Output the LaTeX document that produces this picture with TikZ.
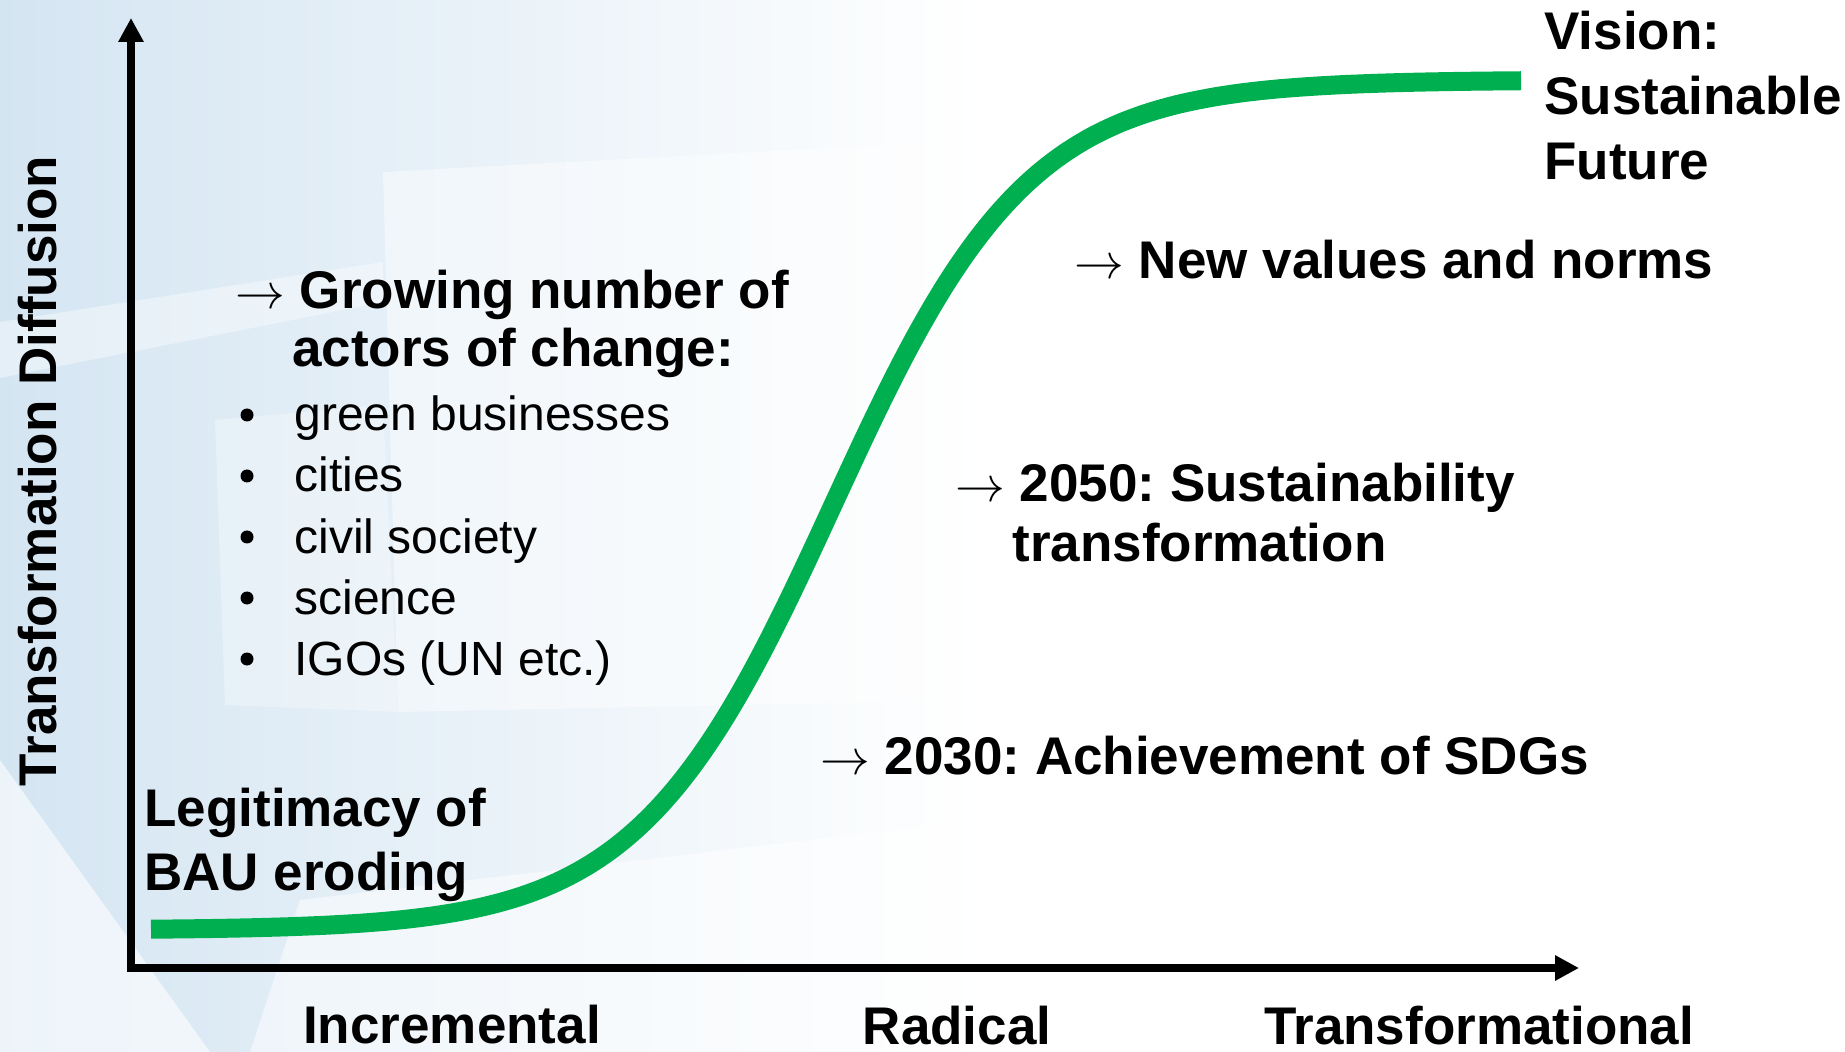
\documentclass[tikz,border=0pt]{standalone}
\usepackage{fontspec}
\setmainfont{Liberation Sans}
\usepackage{tikz}
\usetikzlibrary{positioning,arrows.meta}
\frenchspacing
\definecolor{sgreen}{RGB}{0,176,80}
\definecolor{bgblue}{RGB}{212,229,242}
\tikzset{
  lbl/.style={font=\bfseries\fontsize{26.5}{32}\selectfont,inner sep=0pt,anchor=base west},
  itm/.style={font=\fontsize{24}{29}\selectfont,inner sep=0pt,anchor=base west},
  blt/.style={circle,fill=black,inner sep=0pt,minimum size=6.5pt},
  axis/.style={line width=3.75pt,line join=miter,{Triangle[length=12pt,width=12pt]}-{Triangle[length=12pt,width=12pt]}},
  scurve/.style={line width=9.5pt,sgreen},
  swoosh/.style={fill=white,draw=none}
}

\begin{document}
\begin{tikzpicture}[x=0.5pt,y=-0.5pt]
  \useasboundingbox (0,0) rectangle (1845,1052);
  % background swoosh
  \shade[left color=bgblue,right color=white] (0,0) rectangle (980,1052);
  \fill[swoosh,opacity=0.6] (0,760) -- (210,1052) -- (0,1052) -- cycle;
  \fill[swoosh,opacity=0.45] (383,172) -- (980,140) -- (980,700) -- (398,712) -- cycle;
  \fill[swoosh,opacity=0.3] (215,420) -- (383,405) -- (398,712) -- (225,705) -- cycle;
  \fill[swoosh,opacity=0.4] (0,322) -- (383,262) -- (383,302) -- (0,378) -- cycle;
  \fill[swoosh,opacity=0.5] (250,1052) -- (300,900) -- (980,820) -- (980,1052) -- cycle;

  % axes
  \coordinate (ytop) at (131,18);
  \coordinate (origin) at (131,968);
  \coordinate (xend) at (1579,968);
  \draw[axis] (ytop) -- (origin) -- (xend);

  % s-curve
  \draw[scurve] plot[domain=151:1521,samples=160,smooth] (\x,{930-850/(1+exp(-(\x-833)/98))});

  % labels
  \node[lbl,anchor=center,rotate=90] (ylab) at (38,471) {Transformation Diffusion};
  \node[lbl,anchor=base] (inc) at (452,1043) {Incremental};
  \node[lbl,anchor=base] (rad) at (957,1044) {Radical};
  \node[lbl,anchor=base] (trf) at (1479,1044) {Transformational};

  \node[lbl] (vis1) at (1544,50) {Vision:};
  \node[lbl] (vis2) at (1544,115) {Sustainable};
  \node[lbl] (vis3) at (1544,180) {Future};

  \node[lbl] (norms) at (1074,279) {$\rightarrow$ New values and norms};
  \node[lbl] (y2050) at (955,502) {$\rightarrow$ 2050: Sustainability};
  \node[lbl] (y2050b) at (1012,562) {transformation};
  \node[lbl] (y2030) at (820,774) {$\rightarrow$ 2030: Achievement of SDGs};

  \node[lbl] (grow) at (235,309) {$\rightarrow$ Growing number of};
  \node[lbl] (grow2) at (292,367) {actors of change:};
  \foreach \t [count=\i] in {green businesses,cities,civil society,science,{IGOs (UN etc.)}}{
    \node[itm] (it\i) at (294,{370+61*\i}) {\t};
    \node[blt] (b\i) at (247,{354+61*\i}) {};}

  \node[lbl] (bau1) at (144,826) {Legitimacy of};
  \node[lbl] (bau2) at (144,890) {BAU eroding};
\end{tikzpicture}
\end{document}
